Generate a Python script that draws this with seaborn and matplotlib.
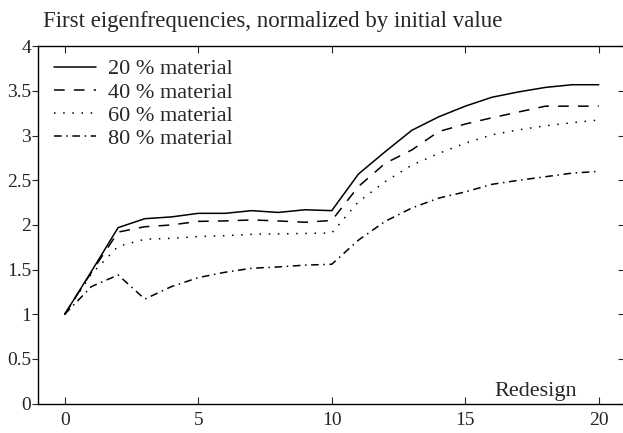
import matplotlib
matplotlib.use("Agg")
import matplotlib.pyplot as plt
import pandas as pd
import seaborn as sns

redesign = list(range(21))
mat_20 = [1.00, 1.48, 1.97, 2.07, 2.09, 2.13, 2.13, 2.16, 2.14, 2.17, 2.16,
          2.57, 2.82, 3.06, 3.21, 3.33, 3.43, 3.49, 3.54, 3.57, 3.57]
mat_40 = [1.00, 1.47, 1.92, 1.98, 2.00, 2.04, 2.045, 2.056, 2.045, 2.03, 2.05,
          2.43, 2.69, 2.84, 3.045, 3.13, 3.20, 3.265, 3.33, 3.33, 3.33]
mat_60 = [1.00, 1.45, 1.76, 1.84, 1.85, 1.87, 1.88, 1.895, 1.90, 1.905, 1.91,
          2.26, 2.485, 2.67, 2.80, 2.915, 3.01, 3.065, 3.11, 3.145, 3.175]
mat_80 = [1.00, 1.31, 1.44, 1.17, 1.31, 1.41, 1.47, 1.515, 1.53, 1.55, 1.56,
          1.83, 2.04, 2.19, 2.30, 2.37, 2.455, 2.50, 2.54, 2.58, 2.60]

labels = ["20 % material", "40 % material", "60 % material", "80 % material"]
series = [mat_20, mat_40, mat_60, mat_80]
styles = ["-", (0, (7, 6)), (0, (1, 5)), (0, (5, 3, 1, 3))]
y_ticks = [0, 0.5, 1, 1.5, 2, 2.5, 3, 3.5, 4]
y_tick_labels = ["0", "0.5", "1", "1.5", "2", "2.5", "3", "3.5", "4"]

sns.set_style("ticks")
plt.rcParams["font.family"] = ["Liberation Serif", "DejaVu Serif"]

fig = plt.figure(figsize=(6.23, 4.33), dpi=100)
ax = fig.add_axes([0.061, 0.068, 0.943, 0.825])

for label, values, ls in zip(labels, series, styles):
    df = pd.DataFrame({"redesign": redesign, "value": values})
    sns.lineplot(data=df, x="redesign", y="value", ax=ax, color="black",
                 linewidth=1.1, linestyle=ls, label=label)

ax.set_xlim(-1, 21)
ax.set_ylim(0, 4)
ax.set_xticks([0, 5, 10, 15, 20])
ax.set_yticks(y_ticks)
ax.set_yticklabels(y_tick_labels)
ax.set_xlabel("")
ax.set_ylabel("")
for side in ["left", "right", "top", "bottom"]:
    ax.spines[side].set_visible(True)
    ax.spines[side].set_linewidth(1.0)
    ax.spines[side].set_color("black")
ax.tick_params(axis="x", direction="in", top=True, length=5, width=0.8,
               labelsize=14, pad=6)
ax.tick_params(axis="y", direction="out", right=False, length=4.5, width=0.8,
               labelsize=14, pad=0.5)
# short inward ticks on the right side
ax_r = ax.secondary_yaxis("right")
ax_r.set_yticks(y_ticks)
ax_r.tick_params(direction="in", length=5, width=0.8, labelright=False)

ax.text(19.17, 0.09, "Redesign", ha="right", va="baseline", fontsize=16)
fig.text(0.069, 0.938, "First eigenfrequencies, normalized by initial value",
         ha="left", va="baseline", fontsize=16.5)

ax.legend(loc="upper left", frameon=False, fontsize=16, handlelength=1.9,
          handletextpad=0.55, labelspacing=0.12, borderaxespad=0.0,
          bbox_to_anchor=(0.012, 0.99))

fig.savefig("out.png", dpi=100)
